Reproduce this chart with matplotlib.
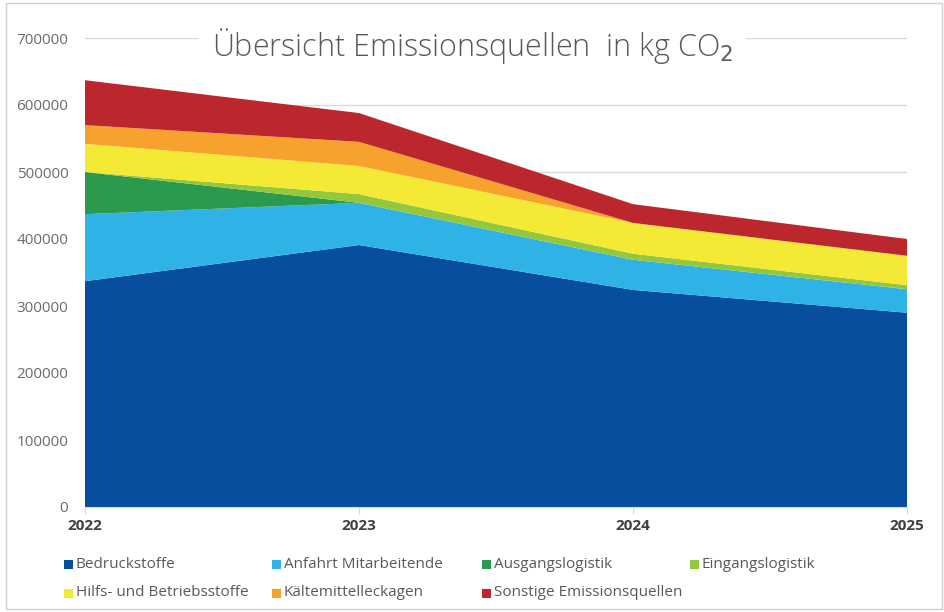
import matplotlib.pyplot as plt
from matplotlib.patches import Rectangle

# data (kg CO2)
years = [2022, 2023, 2024, 2025]
bedruckstoffe = [337000, 391000, 324000, 290000]
anfahrt = [100000, 63000, 45000, 35000]
ausgangslogistik = [63000, 0, 0, 0]
eingangslogistik = [0, 13000, 9000, 6000]
hilfsstoffe = [42000, 42000, 46000, 44000]
kaeltemittel = [28000, 36000, 0, 0]
sonstige = [67000, 43000, 28000, 25000]

labels = ["Bedruckstoffe", "Anfahrt Mitarbeitende", "Ausgangslogistik", "Eingangslogistik",
          "Hilfs- und Betriebsstoffe", "Kältemittelleckagen", "Sonstige Emissionsquellen"]
colors = ["#084e9f", "#2fb2e6", "#2b9a4e", "#95c73d", "#f4e935", "#f7a22d", "#bb272d"]

plt.rcParams['font.family'] = ['Open Sans', 'DejaVu Sans']

fig = plt.figure(figsize=(9.45, 6.12), dpi=100)
ax = fig.add_axes([85 / 945, 105 / 612, 822 / 945, 469 / 612])

series = [bedruckstoffe, anfahrt, ausgangslogistik, eingangslogistik,
          hilfsstoffe, kaeltemittel, sonstige]
ax.stackplot(years, *series, colors=colors, linewidth=0, zorder=2)

ax.set_xlim(2022, 2025)
ax.set_ylim(0, 700000)
ax.set_yticks(range(0, 700001, 100000))
ax.set_yticklabels([str(v) for v in range(0, 700001, 100000)])
ax.set_xticks(years)
ax.grid(axis='y', color='#d9d9d9', linewidth=1, zorder=0)
for s in ['left', 'right', 'top']:
    ax.spines[s].set_visible(False)
ax.spines['bottom'].set_color('#d9d9d9')
ax.tick_params(axis='y', length=0, pad=12, labelsize=11, labelcolor='#6b6b6b')
ax.tick_params(axis='x', length=5, color='#d9d9d9', pad=4, labelsize=11, labelcolor='#404040')
for t in ax.get_xticklabels():
    t.set_fontweight('bold')

# title with white box over the top gridline
fig.text(0.5, 0.925, "Übersicht Emissionsquellen  in kg CO$_2$", ha='center', va='center',
         fontsize=22, fontweight='light', color='#595959',
         bbox=dict(facecolor='white', edgecolor='none', pad=9))

# legend laid out as in the reference (4 columns, row-wise)
col_x = [64, 272, 482, 690]
row_y = [564, 593]
for i, (lab, c) in enumerate(zip(labels, colors)):
    x = col_x[i % 4]
    y = row_y[i // 4]
    fig.patches.append(Rectangle((x / 945, 1 - (y + 5) / 612), 9 / 945, 9 / 612,
                                 transform=fig.transFigure, facecolor=c, edgecolor='none'))
    fig.text((x + 12) / 945, 1 - y / 612, lab, ha='left', va='center',
             fontsize=11, color='#595959')

# outer frame
fig.patches.append(Rectangle((6 / 945, 3 / 612), 936 / 945, 606 / 612, transform=fig.transFigure,
                             facecolor='none', edgecolor='#d0d0d0', linewidth=1))

fig.savefig("out.png", dpi=100)
